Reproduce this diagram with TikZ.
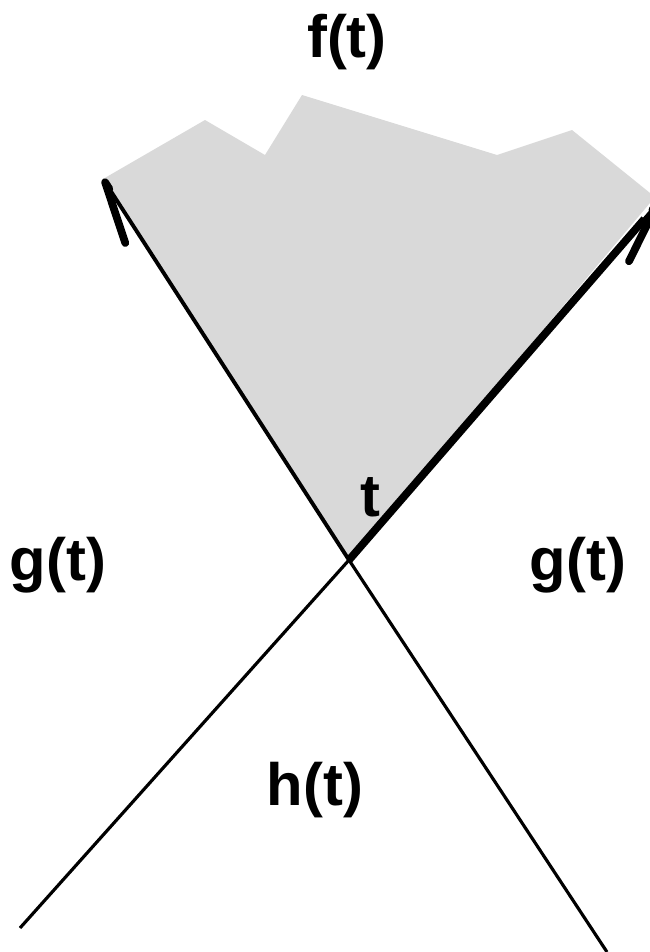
\documentclass[tikz,border=0pt]{standalone}
\usepackage{fontspec}
\setmainfont{Liberation Sans}
\usepackage{xcolor}
\definecolor{conegray}{HTML}{D9D9D9}
\usepackage{tikz}
\usetikzlibrary{arrows.meta,positioning,calc}
\tikzset{
  conelabel/.style={font=\bfseries\fontsize{17}{20}\selectfont,inner sep=0pt},
  coneline/.style={line width=1.1pt},
  conelower/.style={line width=0.9pt},
  conethick/.style={line width=2.2pt},
  conebarb/.style={-{Straight Barb[harpoon,length=6.2mm,width=3.2mm,line width=2.2pt,round]}},
  conebarbr/.style={-{Straight Barb[harpoon,swap,length=6.2mm,width=3.2mm,line width=2.2pt,round]}},
}

\begin{document}
\begin{tikzpicture}
\useasboundingbox (0,0) rectangle (6.5,-9.52);
\coordinate (t) at (3.49,-5.60);
\coordinate (ul) at (1.03,-1.79);
\coordinate (ur) at (6.60,-2.01);
\coordinate (ll) at (0.20,-9.28);
\coordinate (lr) at (6.07,-9.52);
% future region
\fill[conegray] (t)--(ul)--(2.05,-1.20)--(2.65,-1.55)--(3.02,-0.95)--(4.97,-1.55)--(5.72,-1.30)--(6.55,-1.97)--cycle;
\draw[coneline,conebarb] (t)--(ul);
\draw[conethick] (t)--($(t)!0.95!(ur)$);
\draw[coneline,conebarbr] (t)--(ur);
\draw[conelower] (t)--(ll);
\draw[conelower] (t)--(lr);
\node[conelabel] (f) at (3.47,-0.42) {f(t)};
\node[conelabel] (gl) at (0.58,-5.65) {g(t)};
\node[conelabel] (gr) at (5.78,-5.65) {g(t)};
\node[conelabel] (h) at (3.15,-7.90) {h(t)};
\node[conelabel] (tl) at (3.70,-4.97) {t};
\end{tikzpicture}
\end{document}
